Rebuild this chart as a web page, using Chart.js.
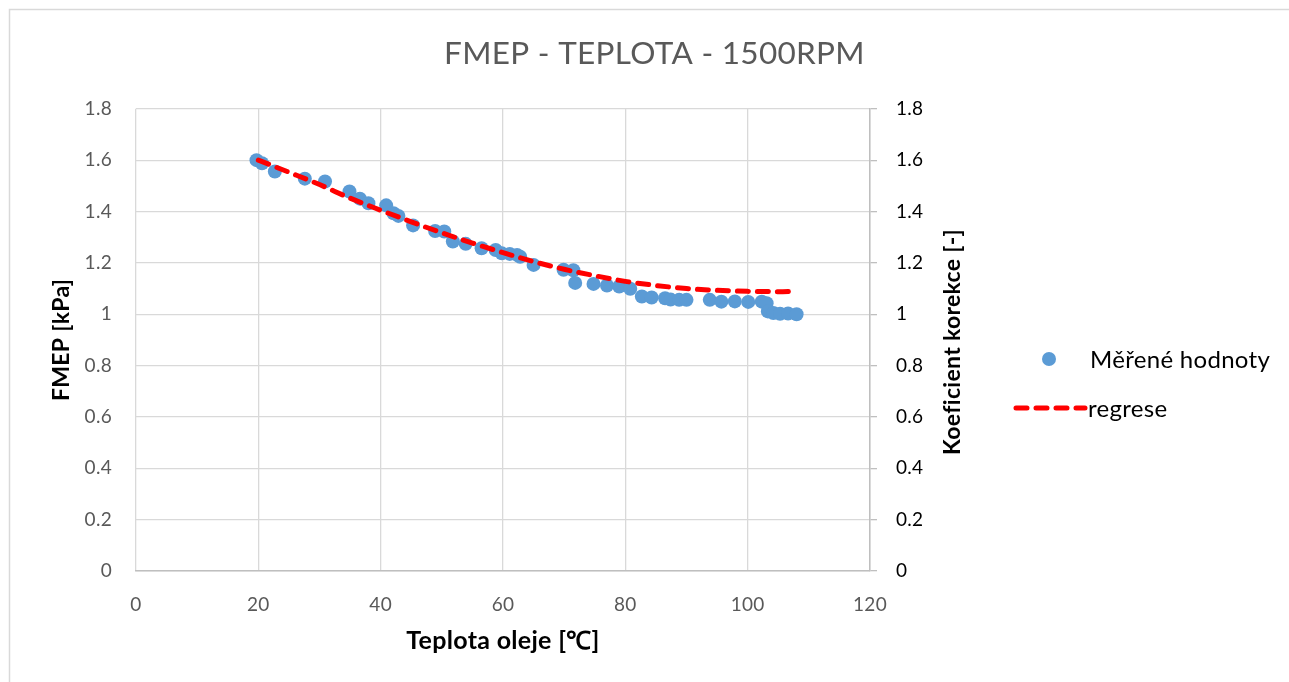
<!DOCTYPE html>
<html>
<head>
<meta charset="utf-8">
<script src="https://cdn.jsdelivr.net/npm/chart.js@4"></script>
<style>
  html, body { margin: 0; padding: 0; background: #fff; }
  #wrap { width: 1289px; height: 682px; }
</style>
</head>
<body>
<div id="wrap"><canvas id="chart" width="1289" height="682"></canvas></div>
<script>
// namerene body (teplota oleje / FMEP)
const tempC = [19.7, 20.6, 22.7, 27.6, 30.9, 34.9, 36.6, 38.0, 40.9, 42.1, 42.9, 45.3, 48.9, 50.4,
  51.8, 53.9, 56.5, 58.8, 59.8, 61.1, 62.3, 62.8, 65.0, 69.9, 71.5, 71.8, 74.8, 77.0, 79.0, 80.8,
  82.7, 84.3, 86.5, 87.4, 88.8, 90.0, 93.8, 95.7, 97.9, 100.1, 102.3, 103.1, 103.3, 104.2, 105.3,
  106.6, 108.0];
const fmep = [1.600, 1.588, 1.556, 1.528, 1.517, 1.478, 1.450, 1.432, 1.424, 1.393, 1.383, 1.346,
  1.324, 1.322, 1.283, 1.274, 1.257, 1.250, 1.237, 1.235, 1.231, 1.224, 1.192, 1.173, 1.171, 1.122,
  1.118, 1.112, 1.108, 1.099, 1.069, 1.065, 1.062, 1.057, 1.056, 1.056, 1.056, 1.049, 1.050, 1.048,
  1.049, 1.043, 1.011, 1.005, 1.002, 1.003, 1.000];

// regresni krivka
const regX = [20, 25, 30, 35, 40, 45, 50, 55, 60, 65, 70, 75, 80, 85, 90, 95, 100, 105, 108];
const regY = [1.600, 1.553, 1.505, 1.452, 1.405, 1.360, 1.317, 1.277, 1.240, 1.205, 1.175, 1.150,
  1.128, 1.112, 1.100, 1.093, 1.089, 1.088, 1.090];

const xTicks = [0, 20, 40, 60, 80, 100, 120];
const yTicks = [0, 0.2, 0.4, 0.6, 0.8, 1, 1.2, 1.4, 1.6, 1.8];

const FONT = 'Lato, "Open Sans", sans-serif';
const BLUE = '#5b9bd5';
const RED = '#ff0000';
const DASH = [11, 9];
const Y2_TITLE = 'Koeficient korekce [-]';
const fmt = v => String(+Number(v).toFixed(1));

// ramecek kolem grafu (jako v Excelu)
const frame = {
  id: 'frame',
  beforeDraw(chart) {
    const ctx = chart.ctx;
    ctx.letterSpacing = '0.3px';
    ctx.save();
    ctx.fillStyle = '#fff';
    ctx.fillRect(0, 0, chart.width, chart.height);
    ctx.strokeStyle = '#d9d9d9';
    ctx.lineWidth = 1.5;
    ctx.strokeRect(9.5, 9.5, chart.width + 20, chart.height + 20);
    ctx.restore();
  }
};

// legenda vpravo (kolecko + carkovana cara) a popisek prave osy (cteny zdola nahoru)
const sideLegend = {
  id: 'sideLegend',
  afterDraw(chart) {
    const ctx = chart.ctx;
    const ds = chart.data.datasets;
    const area = chart.chartArea;
    const x0 = 1013, x1 = 1085, textX = 1090;
    const rows = [359, 408];
    ctx.save();
    ctx.textBaseline = 'middle';
    // mereni
    ctx.fillStyle = ds[0].backgroundColor;
    ctx.beginPath();
    ctx.arc((x0 + x1) / 2, rows[0], 7, 0, Math.PI * 2);
    ctx.fill();
    // regrese
    ctx.strokeStyle = ds[1].borderColor;
    ctx.lineWidth = ds[1].borderWidth;
    ctx.lineCap = 'round';
    ctx.setLineDash(ds[1].borderDash);
    ctx.beginPath();
    ctx.moveTo(x0 + 3, rows[1]);
    ctx.lineTo(x1, rows[1]);
    ctx.stroke();
    ctx.font = '24px ' + FONT;
    ctx.fillStyle = '#000';
    ctx.fillText(ds[0].label, textX, rows[0] + 1);
    ctx.fillText(ds[1].label, textX - 2, rows[1] + 1);
    // titulek prave osy
    ctx.font = 'bold 23px ' + FONT;
    ctx.textAlign = 'center';
    ctx.translate(953, (area.top + area.bottom) / 2 + 2);
    ctx.rotate(-Math.PI / 2);
    ctx.fillText(Y2_TITLE, 0, 0);
    ctx.restore();
  }
};

const config = {
  type: 'scatter',
  data: {
    datasets: [{
      label: 'Měřené hodnoty',
      data: tempC.map((t, i) => ({ x: t, y: fmep[i] })),
      backgroundColor: BLUE,
      borderColor: BLUE,
      borderWidth: 0,
      pointRadius: 7,
      pointHoverRadius: 7,
      pointStyle: 'circle',
      order: 2
    }, {
      label: 'regrese',
      data: regX.map((t, i) => ({ x: t, y: regY[i] })),
      showLine: true,
      borderColor: RED,
      backgroundColor: RED,
      borderWidth: 5,
      borderDash: DASH,
      borderCapStyle: 'round',
      cubicInterpolationMode: 'monotone',
      pointRadius: 0,
      order: 1
    }]
  },
  options: {
    responsive: false,
    animation: false,
    layout: { padding: { left: 20, top: 10, right: 0, bottom: 11 } },
    plugins: {
      tooltip: { enabled: false },
      legend: { display: false },
      title: {
        display: true,
        text: 'FMEP - TEPLOTA - 1500RPM',
        color: '#595959',
        font: { family: FONT, size: 31.5, weight: 'normal', lineHeight: 1.2 },
        padding: { top: 25, bottom: 36 }
      }
    },
    scales: {
      x: {
        type: 'linear',
        min: 0, max: 120,
        afterBuildTicks: s => { s.ticks = xTicks.map(v => ({ value: v })); },
        afterFit: s => { s.height = 100; },
        grid: { color: '#d9d9d9', lineWidth: 1.3, drawTicks: false },
        border: { display: true, color: '#bfbfbf', width: 1.5 },
        ticks: { color: '#595959', padding: 22, font: { family: FONT, size: 19 } },
        title: {
          display: true, text: 'Teplota oleje [℃]', color: '#000',
          font: { family: FONT, size: 25, weight: 'bold' }, padding: { top: 0, bottom: 15 }
        }
      },
      y: {
        position: 'left',
        min: 0, max: 1.8,
        afterBuildTicks: s => { s.ticks = yTicks.map(v => ({ value: v })); },
        afterFit: s => { s.width = 116; },
        grid: { color: '#d9d9d9', lineWidth: 1.3, drawTicks: false },
        border: { display: false },
        ticks: { color: '#595959', padding: 24, callback: fmt, font: { family: FONT, size: 19 } },
        title: {
          display: true, text: 'FMEP [kPa]', color: '#000',
          font: { family: FONT, size: 23, weight: 'bold' }, padding: { top: 28, bottom: 0 }
        }
      },
      y2: {
        position: 'right',
        min: 0, max: 1.8,
        afterBuildTicks: s => { s.ticks = yTicks.map(v => ({ value: v })); },
        afterFit: s => { s.width = 419; },
        grid: { drawOnChartArea: false, color: '#bfbfbf', tickLength: 7, lineWidth: 1.3 },
        border: { display: true, color: '#bfbfbf', width: 1.5 },
        ticks: { color: '#000', padding: 19, callback: fmt, font: { family: FONT, size: 19 } },
        title: { display: false }
      }
    }
  },
  plugins: [frame, sideLegend]
};

new Chart(document.getElementById('chart').getContext('2d'), config);
</script>
</body>
</html>
